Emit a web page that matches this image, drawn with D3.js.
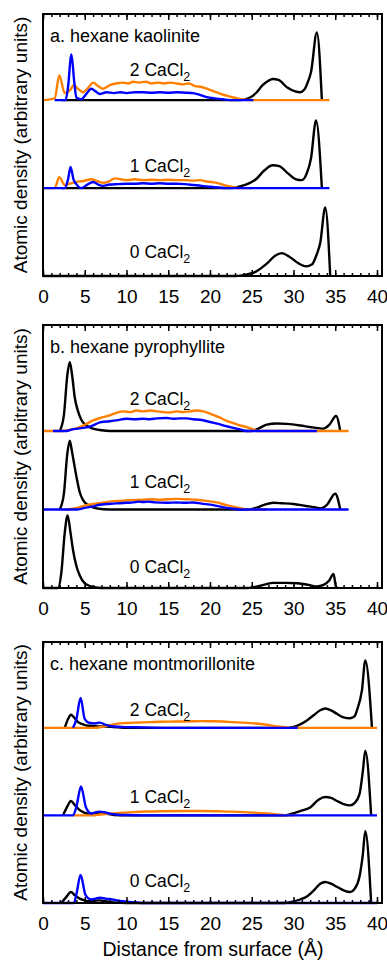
<!DOCTYPE html>
<html>
<head>
<meta charset="utf-8">
<script src="https://cdn.jsdelivr.net/npm/d3@7"></script>
<style>
  body { margin: 0; background: #fff; }
  text { font-family: "Liberation Sans", Arial, sans-serif; fill: #000; }
</style>
</head>
<body>
<svg id="chart" width="387" height="962"></svg>
<script>
// x in Angstrom, y in arbitrary units (one unit = gap between stacked traces)
// each series holds three traces: [0 CaCl2, 1 CaCl2, 2 CaCl2]

// a. kaolinite
var kaoBlack = [
  [[0,0],[23,0],[24,0.01],[25.5,0.05],[26.8,0.14],[27.8,0.23],[28.6,0.26],[29.5,0.22],[30.5,0.15],[31.5,0.11],[32.2,0.13],[32.8,0.25],[33.2,0.375],[33.8,0.78],[34.4,0]],
  [[2.2,0],[22.4,0],[24,0.03],[25.5,0.1],[26.5,0.2],[27.5,0.26],[28.3,0.25],[29.3,0.17],[30.3,0.1],[31,0.09],[31.6,0.17],[32.1,0.34],[32.7,0.77],[33.4,0]],
  [[2.2,0],[23.5,0],[24.8,0.03],[25.6,0.09],[26.3,0.17],[27,0.22],[27.5,0.24],[28.2,0.23],[29.3,0.14],[30.2,0.1],[30.8,0.09],[31.3,0.12],[31.65,0.19],[32.1,0.32],[32.8,0.77],[33.4,0]]
];
var kaoOrange = [
  null,
  [[0,0],[1.4,0],[1.95,0.125],[2.6,0.035],[3.2,0.05],[4,0.07],[4.8,0.08],[5.8,0.1],[6.5,0.08],[7.2,0.06],[8,0.08],[8.6,0.11],[9.3,0.1],[10,0.09],[11,0.1],[12,0.09],[13,0.095],[14,0.09],[15,0.095],[16,0.09],[17,0.09],[18,0.085],[18.8,0.09],[19.6,0.075],[20.8,0.06],[21.8,0.03],[22.8,0.01],[23.5,0],[25,0]],
  [[0,0],[1.4,0.02],[1.95,0.28],[2.6,0.08],[3.2,0.11],[3.7,0.17],[4.3,0.12],[4.8,0.09],[5.4,0.14],[6,0.2],[6.6,0.16],[7.2,0.13],[8,0.17],[8.8,0.19],[9.5,0.2],[10.2,0.19],[10.8,0.21],[11.5,0.2],[12.3,0.21],[13,0.19],[13.8,0.2],[14.5,0.19],[15.3,0.2],[16,0.19],[16.8,0.18],[17.5,0.19],[18.2,0.16],[19,0.15],[19.6,0.13],[20.5,0.1],[21.2,0.075],[22.2,0.045],[22.8,0.03],[23.5,0.015],[25.2,0],[34.3,0]]
];
var kaoBlue = [
  null,
  [[0,0],[2.6,0],[3,0.1],[3.3,0.24],[3.65,0.1],[3.95,0.05],[4.6,0],[5.3,0.04],[6,0.07],[6.6,0.04],[7.2,0.025],[8,0.04],[9,0.045],[10,0.05],[11,0.05],[12,0.055],[13,0.05],[14,0.055],[15,0.05],[16,0.05],[17,0.045],[18,0.035],[19,0.025],[19.6,0.02],[20.5,0.01],[22,0],[34.3,0]],
  [[1.4,0],[2.7,0],[3,0.15],[3.4,0.52],[3.75,0.2],[4,0.03],[4.6,0.01],[5.1,0.06],[5.8,0.13],[6.3,0.1],[6.8,0.07],[7.6,0.09],[8.5,0.08],[9.3,0.09],[10,0.08],[11,0.09],[12,0.09],[13,0.085],[14,0.09],[15,0.085],[16,0.09],[17,0.085],[18,0.08],[18.8,0.06],[19.6,0.035],[20.5,0.02],[21.5,0.01],[22.8,0],[25.2,0]]
];

// b. pyrophyllite
var pyrBlack = [
  [[0,0],[1.8,0],[2.2,0.2],[2.6,0.7],[2.95,0.925],[3.3,0.7],[3.6,0.48],[4,0.28],[4.4,0.16],[5,0.06],[5.4,0.035],[6,0.015],[7,0],[24.5,0],[25.2,0.01],[26.4,0.04],[27.6,0.065],[29,0.065],[30.5,0.06],[31.8,0.04],[32.8,0.02],[33.6,0.04],[34.3,0.1],[34.8,0.18],[35.1,0.01],[35.3,0]],
  [[2,0],[2.5,0.2],[2.9,0.7],[3.2,0.875],[3.5,0.72],[4,0.42],[4.4,0.22],[4.8,0.12],[5.5,0.05],[6.4,0.015],[8,0],[24.5,0],[25.5,0.02],[26.5,0.06],[27.6,0.085],[28.6,0.08],[30,0.07],[31.5,0.045],[32.5,0.03],[33.2,0.015],[34,0.06],[35,0.2],[35.6,0]],
  [[2,0],[2.5,0.2],[2.9,0.7],[3.2,0.88],[3.5,0.7],[3.8,0.43],[4.2,0.25],[4.6,0.14],[5.2,0.07],[6,0.03],[7,0.01],[8,0],[25,0],[25.8,0.03],[26.8,0.08],[28,0.095],[29.2,0.09],[30.8,0.07],[32,0.05],[33,0.035],[33.6,0.03],[34.3,0.08],[35.1,0.19],[35.6,0]]
];
var pyrOrange = [
  null,
  [[2.6,0],[3.5,0.01],[4.4,0.03],[5.2,0.055],[6,0.07],[7,0.085],[8,0.1],[9,0.11],[10,0.115],[10.8,0.12],[12,0.125],[13,0.13],[14,0.125],[14.8,0.13],[16,0.135],[17.2,0.13],[18.4,0.125],[19.6,0.11],[20.8,0.09],[22,0.055],[23,0.03],[24,0.01],[24.4,0],[26.8,0]],
  [[0,0],[2.4,0],[3.5,0.02],[4.4,0.05],[5.2,0.09],[6,0.135],[7,0.17],[8,0.2],[8.8,0.23],[9.6,0.25],[10.4,0.24],[11.2,0.26],[12,0.25],[12.8,0.26],[13.6,0.25],[14.4,0.24],[15.2,0.235],[16,0.25],[16.8,0.24],[17.6,0.25],[18.4,0.26],[19.2,0.25],[20,0.22],[21,0.18],[22,0.13],[22.8,0.1],[23.6,0.07],[24.4,0.05],[25.2,0.02],[25.6,0],[36.6,0]]
];
var pyrBlue = [
  null,
  [[0,0],[4,0],[5,0.02],[6,0.04],[6.8,0.06],[7.6,0.07],[8.4,0.075],[9.2,0.08],[10,0.085],[10.8,0.09],[11.4,0.1],[12,0.095],[12.6,0.1],[13.4,0.09],[14.8,0.085],[16,0.09],[17,0.085],[18,0.09],[19,0.075],[20.4,0.055],[21.5,0.03],[22.8,0.01],[23.6,0],[36.6,0]],
  [[1.2,0],[2.8,0],[3.5,0.02],[4.2,0.03],[4.8,0.04],[5.4,0.05],[6,0.07],[6.8,0.11],[7.6,0.12],[8.8,0.135],[10,0.155],[11,0.15],[12,0.155],[12.8,0.15],[13.6,0.16],[14.8,0.165],[15.6,0.155],[16.4,0.16],[17.2,0.16],[18,0.15],[19,0.14],[20,0.115],[21,0.09],[22,0.06],[22.8,0.04],[23.6,0.02],[24.4,0],[32.8,0]]
];

// c. montmorillonite
var monBlack = [
  [[2.2,0],[2.8,0.07],[3.35,0.125],[3.8,0.09],[4.4,0.05],[5,0.03],[5.6,0.02],[6.2,0.025],[6.8,0.03],[7.5,0.02],[8.5,0.005],[10,0],[29,0],[29.6,0.01],[30.8,0.04],[31.6,0.075],[32.5,0.15],[33.2,0.22],[33.8,0.24],[34.5,0.22],[35.2,0.185],[36,0.145],[36.8,0.125],[37.3,0.16],[37.9,0.3],[38.3,0.55],[38.6,0.82],[39.3,0]],
  [[2.4,0],[2.9,0.1],[3.35,0.165],[3.8,0.12],[4.4,0.06],[5,0.03],[5.6,0.02],[6.2,0.025],[6.8,0.03],[7.5,0.02],[8.5,0.005],[10,0],[29,0],[29.6,0.015],[30.8,0.05],[32,0.09],[33,0.18],[33.8,0.21],[34.5,0.2],[35.2,0.165],[36,0.13],[36.8,0.115],[37.3,0.14],[37.9,0.24],[38.3,0.5],[38.6,0.74],[39.3,0]],
  [[2.6,0],[3,0.1],[3.35,0.15],[3.8,0.11],[4.2,0.065],[4.8,0.04],[5.2,0.026],[6,0.02],[7,0.015],[7.6,0.015],[9,0.005],[10,0],[29,0],[30,0.01],[30.8,0.04],[31.6,0.085],[32.5,0.15],[33.2,0.2],[33.8,0.22],[34.5,0.2],[35.2,0.16],[36,0.12],[36.8,0.11],[37.3,0.13],[37.6,0.2],[38.2,0.43],[38.6,0.77],[39.4,0]]
];
var monOrange = [
  null,
  [[3.6,0],[6,0],[6.8,0.01],[8,0.02],[9.5,0.03],[10.8,0.038],[12.5,0.045],[14,0.048],[16.8,0.05],[19,0.05],[21,0.047],[22.8,0.043],[24.5,0.035],[26.8,0.023],[28,0.012],[29.2,0],[30,0]],
  [[0,0],[6,0],[7,0.01],[8,0.03],[8.8,0.045],[10,0.055],[11,0.06],[12.8,0.065],[14,0.07],[16,0.072],[18,0.075],[18.8,0.077],[20,0.075],[21.5,0.072],[22.8,0.065],[24,0.06],[25.5,0.05],[26.8,0.035],[27.8,0.02],[29,0.008],[29.6,0],[40,0]]
];
var monBlue = [
  [[0,0],[3.7,0],[4,0.1],[4.5,0.32],[5.1,0.09],[5.8,0.04],[6.3,0.05],[6.8,0.06],[7.5,0.05],[8.4,0.038],[9.5,0.02],[10.8,0.01],[12,0],[40,0]],
  [[0,0],[3.6,0],[4,0.1],[4.55,0.33],[5.15,0.09],[5.8,0.02],[6.3,0.035],[6.8,0.043],[7.4,0.035],[8,0.02],[9,0.008],[10,0.004],[12,0],[40,0]],
  [[3.6,0],[4,0.1],[4.5,0.34],[5,0.1],[5.6,0.055],[6.2,0.05],[6.8,0.06],[7.6,0.03],[8.5,0.015],[10,0.008],[12,0.005],[15,0],[30.5,0]]
];

var panelTitles = ['a. hexane kaolinite', 'b. hexane pyrophyllite', 'c. hexane montmorillonite'];
var traceLabels = ['0 CaCl', '1 CaCl', '2 CaCl'];
var traceOffsets = [0, 1, 2];
var xTickLabels = [0, 5, 10, 15, 20, 25, 30, 35, 40];

var colors = { black: '#000000', orange: '#ff8000', blue: '#0000ff' };

// layout of the three panels
var panels = [
  { title: panelTitles[0], top: 14, bottom: 276, yMax: 2.98, series: [kaoBlack, kaoOrange, kaoBlue], lift: [18, 16, 24] },
  { title: panelTitles[1], top: 325, bottom: 588, yMax: 3.35, series: [pyrBlack, pyrOrange, pyrBlue], lift: [15, 21, 26] },
  { title: panelTitles[2], top: 642, bottom: 903, yMax: 2.98, series: [monBlack, monOrange, monBlue], lift: [16, 12, 12] }
];
var seriesColors = [colors.black, colors.orange, colors.blue];

var svg = d3.select('#chart');
var x = d3.scaleLinear().domain([0, 40.6]).range([43, 382]);

var drawPanel = function (p) {
  var y = d3.scaleLinear().domain([0, p.yMax]).range([p.bottom, p.top]);
  var g = svg.append('g');

  var line = d3.line()
    .x(function (d) { return x(d[0]); })
    .y(function (d) { return y(d[1]); })
    .curve(d3.curveMonotoneX);

  // traces: black, then orange, then blue on top
  p.series.forEach(function (s, si) {
    s.forEach(function (pts, li) {
      if (!pts) return;
      var off = traceOffsets[li];
      g.append('path')
        .datum(pts.map(function (d) { return [d[0], d[1] + off]; }))
        .attr('d', line)
        .attr('fill', 'none')
        .attr('stroke', seriesColors[si])
        .attr('stroke-width', 2.4)
        .attr('stroke-linejoin', 'round');
    });
  });

  // trace labels
  traceLabels.forEach(function (lab, li) {
    var t = g.append('text')
      .attr('x', x(10.4))
      .attr('y', y(traceOffsets[li]) - p.lift[li])
      .attr('font-size', 17.5);
    t.append('tspan').text(lab);
    t.append('tspan').attr('font-size', 12.5).attr('dy', 5).text('2');
  });

  // panel title
  g.append('text')
    .attr('x', 50)
    .attr('y', p.top + 28)
    .attr('font-size', 18)
    .text(p.title);

  // ticks, inward on top and bottom
  var minor = d3.range(0, 41);
  var bottomMinor = d3.axisBottom(x).tickValues(minor).tickSize(-3).tickFormat('');
  var bottomMajor = d3.axisBottom(x).tickValues(xTickLabels).tickSize(-6).tickPadding(14);
  var topMinor = d3.axisTop(x).tickValues(minor).tickSize(-3).tickFormat('');
  var topMajor = d3.axisTop(x).tickValues(xTickLabels).tickSize(-6).tickFormat('');

  [[bottomMinor, p.bottom], [bottomMajor, p.bottom], [topMinor, p.top], [topMajor, p.top]].forEach(function (a) {
    var ax = g.append('g').attr('transform', 'translate(0,' + a[1] + ')').call(a[0]);
    ax.select('.domain').remove();
    ax.selectAll('line').attr('stroke', '#000').attr('stroke-width', 1.5);
    ax.selectAll('text').attr('font-size', 19).attr('font-family', '"Liberation Sans", Arial, sans-serif').attr('fill', '#000');
  });

  // frame
  g.append('rect')
    .attr('x', x(0))
    .attr('y', p.top)
    .attr('width', x(40.6) - x(0))
    .attr('height', p.bottom - p.top)
    .attr('fill', 'none')
    .attr('stroke', '#000')
    .attr('stroke-width', 2);

  // y label
  g.append('text')
    .attr('transform', 'translate(27,' + (p.top + p.bottom) / 2 + ') rotate(-90)')
    .attr('text-anchor', 'middle')
    .attr('font-size', 19)
    .text('Atomic density (arbitrary units)');
};

panels.forEach(drawPanel);

// x label
svg.append('text')
  .attr('x', 213)
  .attr('y', 956)
  .attr('text-anchor', 'middle')
  .attr('font-size', 19.5)
  .text('Distance from surface (\u00c5)');
</script>
</body>
</html>
